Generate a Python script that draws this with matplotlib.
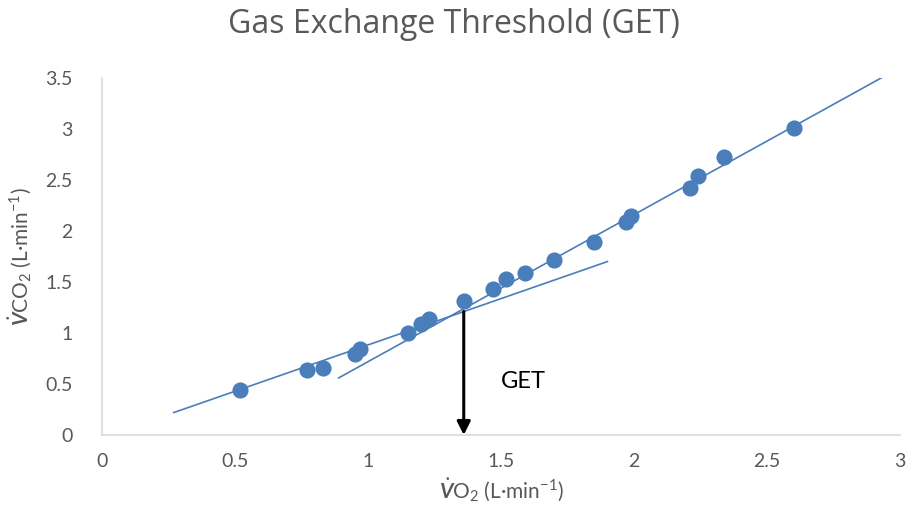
import matplotlib
matplotlib.use("Agg")
import matplotlib.pyplot as plt
import numpy as np

plt.rcParams['font.family'] = ['Lato', 'DejaVu Sans']
plt.rcParams['mathtext.fontset'] = 'custom'
plt.rcParams['mathtext.rm'] = 'Lato'
plt.rcParams['mathtext.it'] = 'Lato:italic:bold'

# measured VO2 / VCO2 pairs (L/min)
vo2 = [0.52, 0.77, 0.83, 0.95, 0.97, 1.15, 1.20, 1.23, 1.36, 1.47, 1.52, 1.59,
       1.70, 1.85, 1.97, 1.99, 2.21, 2.24, 2.34, 2.60]
vco2 = [0.44, 0.64, 0.66, 0.79, 0.84, 1.00, 1.09, 1.14, 1.31, 1.43, 1.53, 1.59,
        1.72, 1.89, 2.09, 2.15, 2.42, 2.54, 2.73, 3.01]

# regression segments below and above the threshold
lower_x = [0.27, 1.90]
lower_y = [0.22, 1.70]
upper_x = [0.89, 2.95]
upper_y = [0.56, 3.53]

get_vo2 = 1.36
get_top = 1.21

blue = '#4a7ebb'
grey = '#595959'

fig = plt.figure(figsize=(9.08, 5.29), dpi=100)
ax = fig.add_axes([0.1123, 0.1777, 0.8789, 0.6749])

ax.plot(lower_x, lower_y, color=blue, lw=1.2)
ax.plot(upper_x, upper_y, color=blue, lw=1.2)
ax.scatter(vo2, vco2, s=135, color=blue, zorder=3, linewidths=0)

ax.annotate('', xy=(get_vo2, 0), xytext=(get_vo2, get_top),
            arrowprops=dict(arrowstyle='-|>', color='black', lw=2.2,
                            mutation_scale=20, shrinkA=0, shrinkB=0))
ax.text(1.5, 0.52, 'GET', fontsize=17, color='black', ha='left', va='center')

ax.set_xlim(0, 3)
ax.set_ylim(0, 3.5)
ax.set_xticks(np.arange(0, 3.01, 0.5))
ax.set_yticks(np.arange(0, 3.51, 0.5))
ax.set_xticklabels(['0', '0.5', '1', '1.5', '2', '2.5', '3'])
ax.set_yticklabels(['0', '0.5', '1', '1.5', '2', '2.5', '3', '3.5'])
ax.tick_params(length=0, labelsize=14, colors=grey, pad=13)
ax.tick_params(axis='y', pad=21)

for side in ['top', 'right']:
    ax.spines[side].set_visible(False)
for side in ['left', 'bottom']:
    ax.spines[side].set_color('#d9d9d9')
    ax.spines[side].set_linewidth(1.2)

ax.set_xlabel(r'$\dot{V}$O$_2$ (L·min$^{-1}$)', fontsize=15, color=grey, labelpad=5)
ax.set_ylabel(r'$\dot{V}$CO$_2$ (L·min$^{-1}$)', fontsize=15, color=grey, labelpad=8)
fig.suptitle('Gas Exchange Threshold (GET)', fontsize=23, color=grey, y=0.985,
             x=0.5, family=['Open Sans', 'DejaVu Sans'])

fig.savefig('out.png', dpi=100)
